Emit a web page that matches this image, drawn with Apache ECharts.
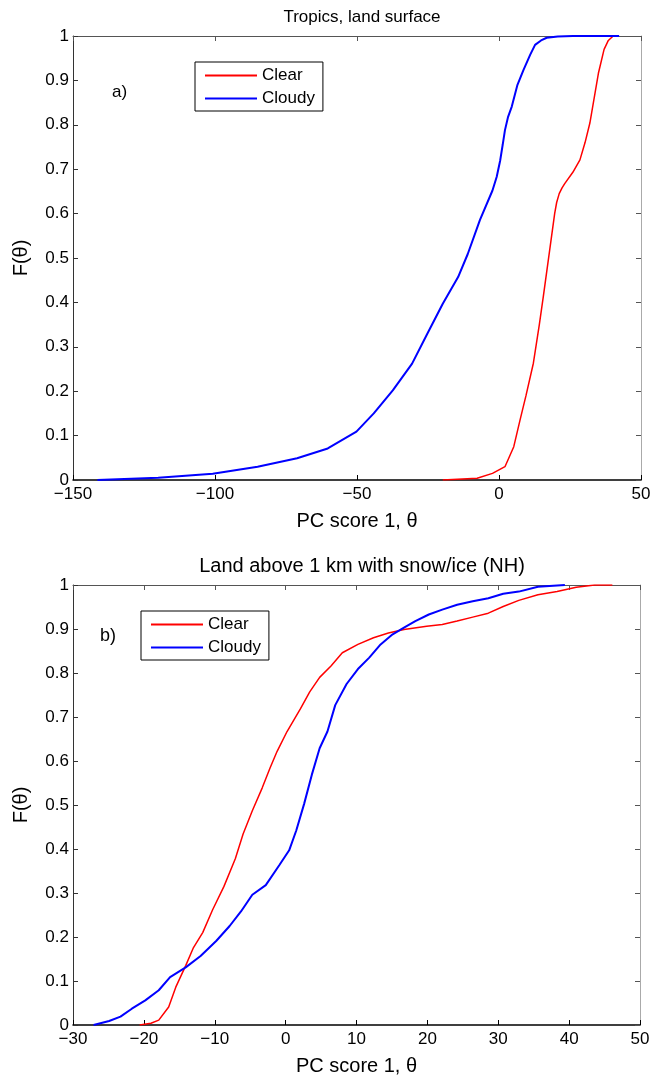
<!DOCTYPE html>
<html>
<head>
<meta charset="utf-8">
<script src="https://cdn.jsdelivr.net/npm/echarts@6/dist/echarts.min.js"></script>
<style>
  html, body { margin: 0; padding: 0; background: #fff; }
  #chart { width: 660px; height: 1077px; }
</style>
</head>
<body>
<div id="chart"></div>
<script>
// panel a) Tropics, land surface
var topClearX = [-19.8, -7.7, -2.3, 2.1, 5.2, 7.4, 9.5, 12.1, 14.2, 15.6, 18.0, 19.6, 20.3, 21.2, 22.2, 23.2, 26.0, 28.5, 30.3, 32.0, 35.0, 37.0, 38.5, 40.2]
var topClearY = [0, 0.004, 0.015, 0.03, 0.075, 0.135, 0.19, 0.263, 0.35, 0.413, 0.525, 0.6, 0.625, 0.645, 0.658, 0.668, 0.693, 0.721, 0.76, 0.804, 0.916, 0.97, 0.99, 1]
var topCloudyX = [-141.4, -120, -100.8, -85, -71.1, -60.3, -50.2, -44.1, -37.4, -30.6, -25.2, -19.8, -14.4, -11.0, -6.7, -2.3, -0.8, 0.4, 1.3, 2.1, 3.2, 4.5, 6.5, 8.6, 11.0, 12.7, 14.8, 16.8, 20.7, 26.0, 42.3]
var topCloudyY = [0, 0.005, 0.014, 0.03, 0.049, 0.071, 0.109, 0.15, 0.202, 0.262, 0.33, 0.397, 0.457, 0.509, 0.586, 0.652, 0.683, 0.719, 0.755, 0.788, 0.818, 0.841, 0.89, 0.923, 0.958, 0.98, 0.99, 0.996, 0.999, 1, 1]

// panel b) Land above 1 km with snow/ice (NH)
var botClearX = [-20.6, -19.0, -17.9, -16.5, -15.5, -14.1, -13.0, -11.7, -10.3, -8.7, -7.1, -6.0, -4.7, -3.3, -2.2, -1.2, 0.2, 2.1, 3.4, 4.8, 6.4, 8.0, 10.2, 12.4, 14.5, 16.7, 19.9, 22.1, 24.2, 26.4, 28.6, 30.7, 32.9, 35.6, 38.3, 41.0, 43.6, 46.1]
var botClearY = [0, 0.004, 0.011, 0.041, 0.086, 0.135, 0.176, 0.21, 0.262, 0.315, 0.378, 0.434, 0.487, 0.539, 0.584, 0.622, 0.667, 0.719, 0.757, 0.79, 0.816, 0.846, 0.865, 0.88, 0.891, 0.899, 0.906, 0.91, 0.918, 0.927, 0.936, 0.951, 0.965, 0.978, 0.985, 0.995, 1, 1]
var botCloudyX = [-27.1, -24.9, -23.3, -21.7, -19.8, -17.9, -16.3, -14.1, -12.0, -9.8, -7.9, -6.3, -4.7, -2.8, -0.9, 0.5, 1.5, 2.6, 3.7, 4.8, 5.9, 7.0, 8.6, 10.2, 11.8, 13.4, 15.1, 16.7, 18.3, 20.2, 22.1, 24.2, 26.4, 28.6, 30.7, 32.9, 35.6, 39.4]
var botCloudyY = [0, 0.009, 0.019, 0.037, 0.056, 0.079, 0.109, 0.131, 0.157, 0.191, 0.225, 0.258, 0.296, 0.318, 0.363, 0.397, 0.442, 0.502, 0.569, 0.629, 0.667, 0.727, 0.775, 0.809, 0.835, 0.865, 0.888, 0.903, 0.918, 0.933, 0.944, 0.955, 0.963, 0.97, 0.98, 0.985, 0.996, 1]

var FONT = 'Liberation Sans, Arial, sans-serif'

function pairs(xs, ys) {
  return xs.map(function (x, i) { return [x, ys[i]] })
}

// MATLAB style labels: long minus sign
function tickText(v) {
  var s = String(+v.toFixed(1))
  return s.replace('-', '\u2212')
}

function xAxes(gridIndex, min, max, interval) {
  return [{
    type: 'value', gridIndex: gridIndex, min: min, max: max, interval: interval,
    name: 'PC score 1, \u03b8', nameLocation: 'middle', nameGap: 31,
    nameTextStyle: { fontFamily: FONT, fontSize: 20, color: '#000' },
    axisLine: { onZero: false, lineStyle: { color: '#000', width: 1.5 } },
    axisTick: { inside: true, length: 5, lineStyle: { color: '#000' } },
    axisLabel: { fontFamily: FONT, fontSize: 17, color: '#000', margin: 6, formatter: tickText },
    splitLine: { show: false }
  }, {
    type: 'value', gridIndex: gridIndex, min: min, max: max, interval: interval, position: 'top',
    axisLine: { onZero: false, lineStyle: { color: '#555' } },
    axisTick: { inside: true, length: 5, lineStyle: { color: '#555' } },
    axisLabel: { show: false },
    splitLine: { show: false }
  }]
}

function yAxes(gridIndex) {
  return [{
    type: 'value', gridIndex: gridIndex, min: 0, max: 1, interval: 0.1,
    name: 'F(\u03b8)', nameLocation: 'middle', nameGap: 42,
    nameTextStyle: { fontFamily: FONT, fontSize: 20, color: '#000' },
    axisLine: { show: true, onZero: false, lineStyle: { color: '#333' } },
    axisTick: { show: true, inside: true, length: 5, lineStyle: { color: '#333' } },
    axisLabel: { fontFamily: FONT, fontSize: 17, color: '#000', margin: 4, formatter: tickText },
    splitLine: { show: false }
  }, {
    type: 'value', gridIndex: gridIndex, min: 0, max: 1, interval: 0.1, position: 'right',
    axisLine: { show: true, onZero: false, lineStyle: { color: '#aaa' } },
    axisTick: { show: true, inside: true, length: 5, lineStyle: { color: '#555' } },
    axisLabel: { show: false },
    splitLine: { show: false }
  }]
}

function lineSeries(name, xi, yi, data, color, width) {
  return {
    name: name, type: 'line', xAxisIndex: xi, yAxisIndex: yi,
    data: data, symbol: 'none', smooth: false,
    lineStyle: { color: color, width: width }, itemStyle: { color: color },
    animation: false
  }
}

function legendBox(left, top) {
  return {
    orient: 'vertical', left: left, top: top,
    data: ['Clear', 'Cloudy'],
    icon: 'rect', itemWidth: 52, itemHeight: 2, itemGap: 6,
    padding: [5, 8, 4, 10],
    borderColor: '#000', borderWidth: 1,
    textStyle: { fontFamily: FONT, fontSize: 17, color: '#000' },
    selectedMode: false
  }
}

var chart = echarts.init(document.getElementById('chart'))
chart.setOption({
  backgroundColor: '#fff',
  animation: false,
  title: [{
    text: 'Tropics, land surface', left: 357, top: 4, textAlign: 'center',
    textStyle: { fontFamily: FONT, fontSize: 17, fontWeight: 'normal', color: '#000' }
  }, {
    text: 'Land above 1 km with snow/ice (NH)', left: 357, top: 551, textAlign: 'center',
    textStyle: { fontFamily: FONT, fontSize: 20, fontWeight: 'normal', color: '#000' }
  }],
  legend: [legendBox(195, 62), legendBox(141, 611)],
  grid: [
    { left: 73, top: 36, width: 568, height: 444 },
    { left: 73, top: 585, width: 567, height: 445 }
  ],
  xAxis: xAxes(0, -150, 50, 50).concat(xAxes(1, -30, 50, 10)),
  yAxis: yAxes(0).concat(yAxes(1)),
  graphic: [
    { type: 'text', left: 112, top: 84, style: { text: 'a)', font: '17px ' + FONT, fill: '#000' } },
    { type: 'text', left: 100, top: 627, style: { text: 'b)', font: '18px ' + FONT, fill: '#000' } }
  ],
  series: [
    lineSeries('Clear', 0, 0, pairs(topClearX, topClearY), '#ff0000', 1.5),
    lineSeries('Cloudy', 0, 0, pairs(topCloudyX, topCloudyY), '#0000ff', 2),
    lineSeries('Clear', 2, 2, pairs(botClearX, botClearY), '#ff0000', 1.5),
    lineSeries('Cloudy', 2, 2, pairs(botCloudyX, botCloudyY), '#0000ff', 2)
  ]
})
</script>
</body>
</html>
